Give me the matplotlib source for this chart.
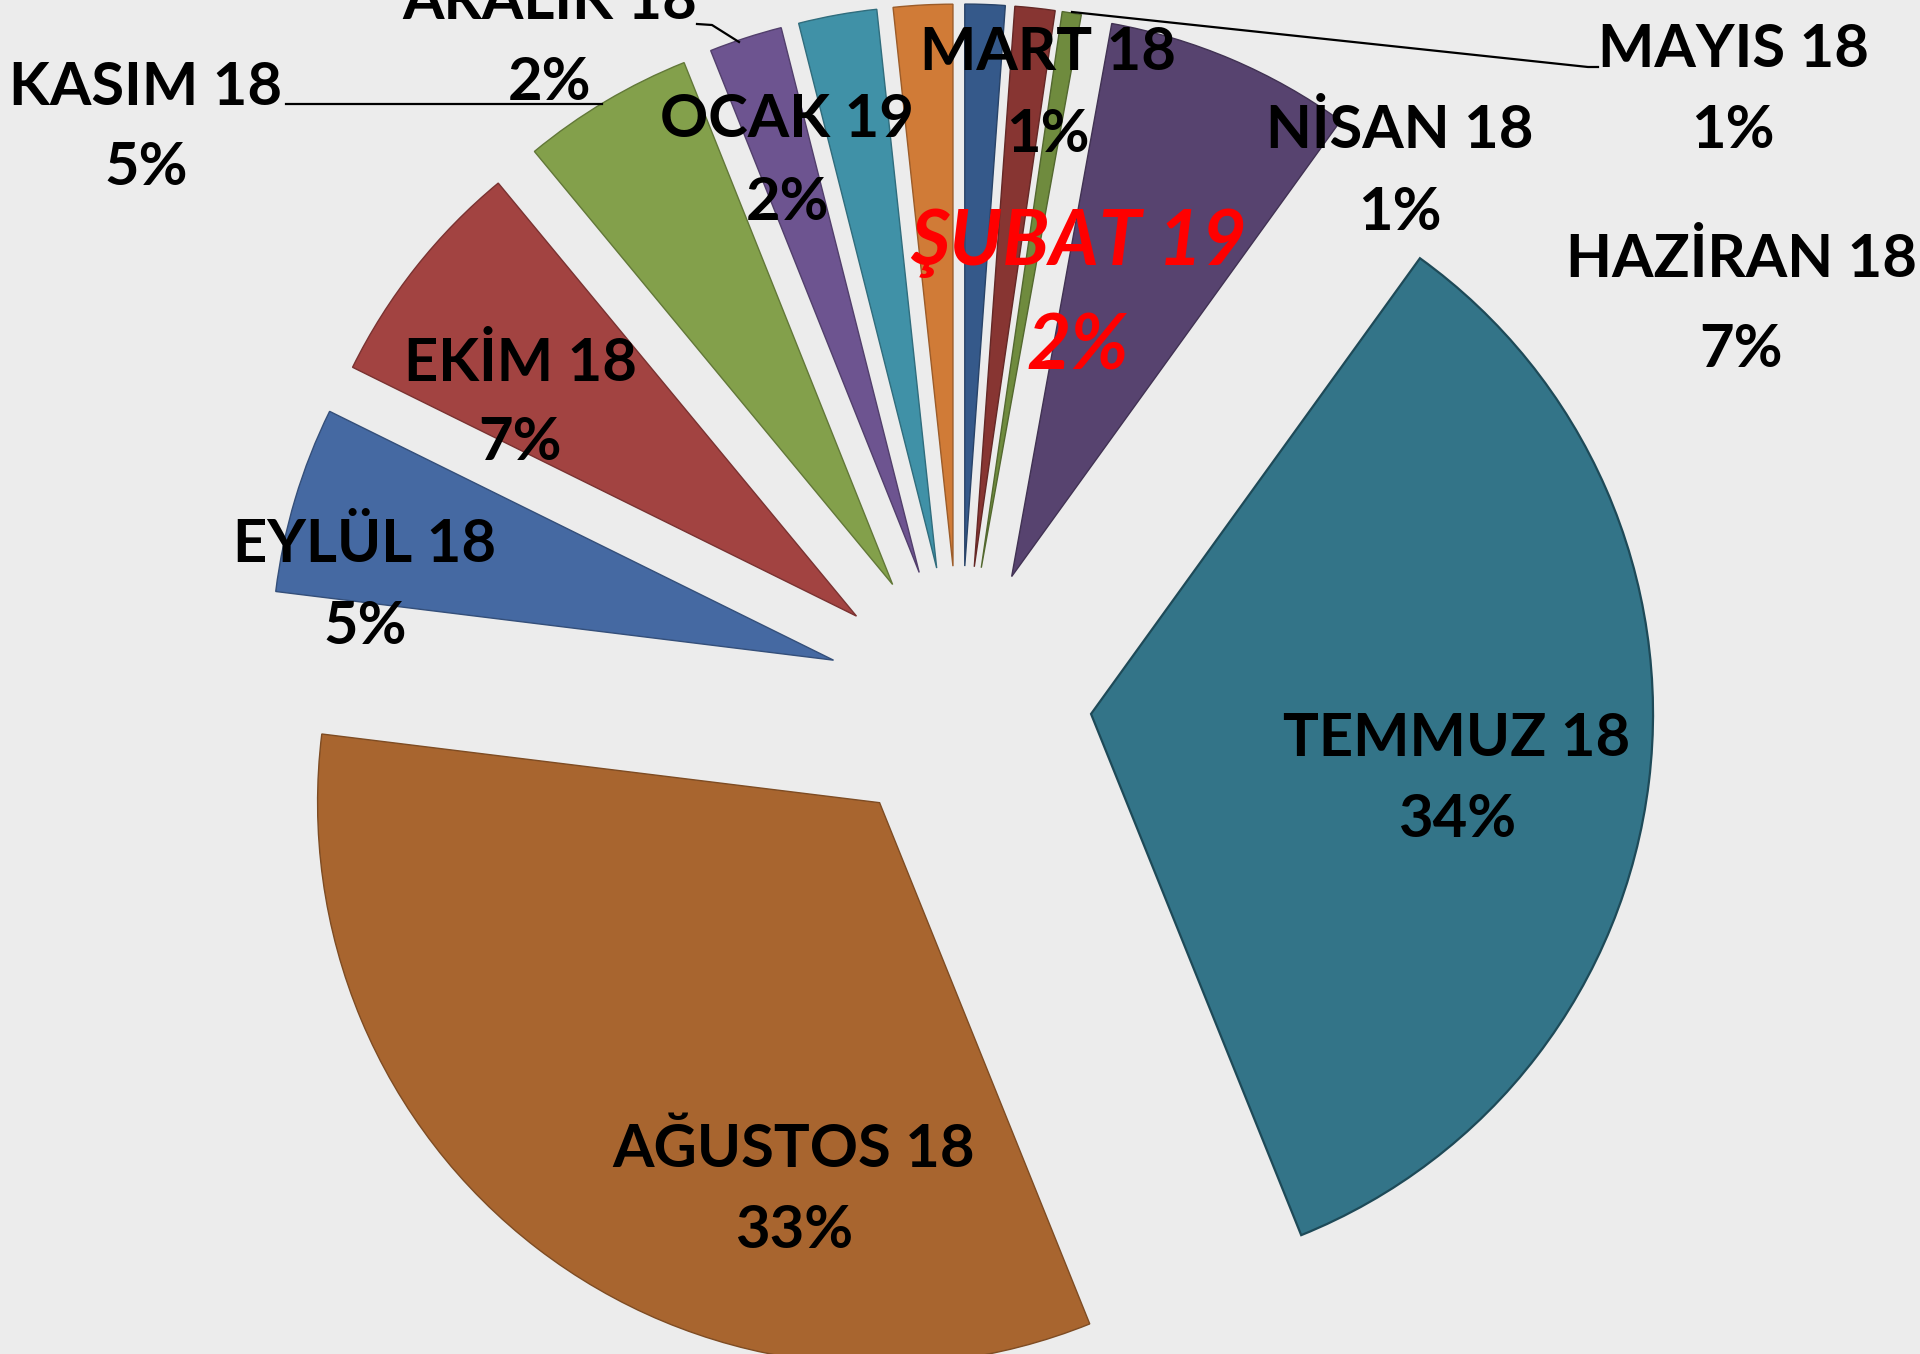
import matplotlib
matplotlib.use("Agg")
import matplotlib.pyplot as plt
import matplotlib.colors as mcolors

# aylik pay (%)
aylar = ["MART 18", "NİSAN 18", "MAYIS 18", "HAZİRAN 18", "TEMMUZ 18", "AĞUSTOS 18",
         "EYLÜL 18", "EKİM 18", "KASIM 18", "ARALIK 18", "OCAK 19", "ŞUBAT 19"]
paylar = [1.15, 1.15, 0.55, 7.1, 33.95, 33.05, 5.35, 6.7, 4.95, 2.1, 2.25, 1.7]
renkler = ["#35598A", "#873532", "#6F8B3E", "#57436F", "#337488", "#A8652F",
           "#4569A2", "#A24341", "#83A04B", "#6D5490", "#4091A7", "#D07B37"]

W, H = 1920, 1354
# etiket yerleri (piksel, y asagi dogru): isim satiri ve yuzde satiri taban cizgileri
etiket_x = [1048, 1400, 1733, 1741, 1457, 794, 365, 520, 146, 550, 787, 1078]
isim_y = [70, 148, 67, 277, 756, 1167, 562, 381, 105, 19, 137, 265]
yuzde_y = [152, 230, 148, 367, 837, 1248, 644, 460, 185, 100, 220, 370]

fig = plt.figure(figsize=(W / 100, H / 100), dpi=100)
fig.patch.set_facecolor("#ECECEC")
ax = fig.add_axes([0, 0, 1, 1])
ax.set_facecolor("#ECECEC")

kenar = [tuple(c * 0.75 for c in mcolors.to_rgb(r)) for r in renkler]
wedges, _ = ax.pie(paylar, colors=renkler, startangle=90, counterclock=False,
                   center=(960, H - 698), radius=562, explode=[132] * len(paylar),
                   wedgeprops=dict(linewidth=1.0), frame=True)
for w, k in zip(wedges, kenar):
    w.set_edgecolor(k)
wedges[4].set_edgecolor("#1E4A58")
wedges[4].set_linewidth(1.6)

ax.set_xlim(0, W)
ax.set_ylim(0, H)
ax.set_aspect("equal")
ax.axis("off")

# baglanti cizgileri
ax.plot([286, 602], [H - 104, H - 104], color="black", lw=1.6)
ax.plot([697, 712, 739], [H - 24, H - 25, H - 42], color="black", lw=1.6)
ax.plot([1072, 1588, 1598], [H - 12, H - 67, H - 67], color="black", lw=1.6)

font = ["Lato", "DejaVu Sans"]
for i, ad in enumerate(aylar):
    yuzde = f"{paylar[i]:.0f}%"
    if ad.startswith("ŞUBAT"):
        stil = dict(color="#FF0000", fontsize=55, fontstyle="italic")
    else:
        stil = dict(color="black", fontsize=43)
    ax.text(etiket_x[i], H - isim_y[i], ad, ha="center", va="baseline",
            fontweight="bold", family=font, **stil)
    ax.text(etiket_x[i], H - yuzde_y[i], yuzde, ha="center", va="baseline",
            fontweight="bold", family=font, **stil)

fig.savefig("out.png", dpi=100, facecolor=fig.get_facecolor())
